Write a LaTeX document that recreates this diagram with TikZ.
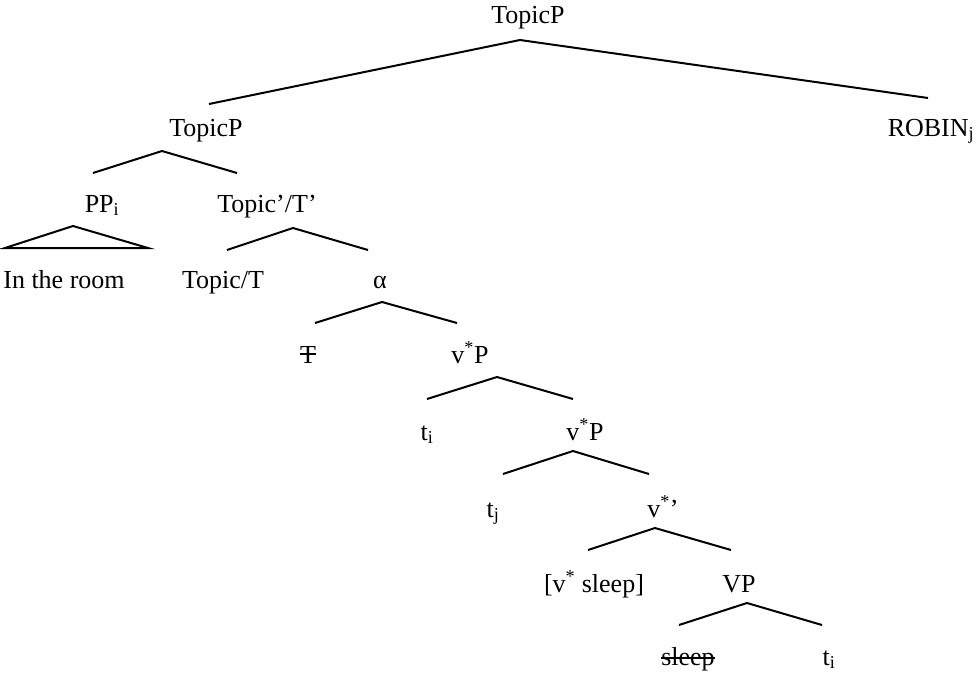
\documentclass[tikz,border=0pt]{standalone}
\usepackage{fontspec}
\setmainfont{Liberation Serif}
\newcommand\mystrike[2]{\setbox0\hbox{#2}\rlap{\rule[#1]{\wd0}{0.07em}}\box0}
\begin{document}
\begin{tikzpicture}[x=1pt,y=-1pt,
  lbl/.style={anchor=base,inner sep=0pt,font=\fontsize{26}{30}\selectfont},
  edge/.style={line width=2pt,line join=miter}]
\useasboundingbox (0,0) rectangle (978,673);
% labels
\node[lbl] (top) at (528,23) {TopicP};
\node[lbl] (tp2) at (206,136) {TopicP};
\node[lbl] (robin) at (931,136) {ROBIN\textsubscript{j}};
\node[lbl] (pp) at (102,212) {PP\textsubscript{i}};
\node[lbl] (tbar) at (267,212) {Topic’/T’};
\node[lbl] (room) at (64,288) {In the room};
\node[lbl] (topt) at (223,288) {Topic/T};
\node[lbl] (alpha) at (380,288) {α};
\node[lbl] (tstr) at (308,363) {\mystrike{0.3em}{T}};
\node[lbl] (vp1) at (470,363) {v\textsuperscript{*}P};
\node[lbl] (ti1) at (427,440) {t\textsubscript{i}};
\node[lbl] (vp2) at (585,440) {v\textsuperscript{*}P};
\node[lbl] (tj) at (493,517) {t\textsubscript{j}};
\node[lbl] (vbar) at (663,517) {v\textsuperscript{*}’};
\node[lbl] (vsleep) at (594,592) {[v\textsuperscript{*} sleep]};
\node[lbl] (vp3) at (739,592) {VP};
\node[lbl] (sleep) at (688,665) {\mystrike{0.24em}{sleep}};
\node[lbl] (ti2) at (829,665) {t\textsubscript{i}};
% branch points
\coordinate (a0) at (520,40);  \coordinate (l0) at (209,104); \coordinate (r0) at (928,98);
\coordinate (a1) at (162,151); \coordinate (l1) at (93,173);  \coordinate (r1) at (237,173);
\coordinate (a2) at (73,226);  \coordinate (l2) at (5,248);   \coordinate (r2) at (148,248);
\coordinate (a3) at (293,228); \coordinate (l3) at (227,250); \coordinate (r3) at (368,250);
\coordinate (a4) at (382,302); \coordinate (l4) at (315,323); \coordinate (r4) at (457,323);
\coordinate (a5) at (497,377); \coordinate (l5) at (427,399); \coordinate (r5) at (573,399);
\coordinate (a6) at (573,451); \coordinate (l6) at (503,474); \coordinate (r6) at (649,474);
\coordinate (a7) at (655,528); \coordinate (l7) at (588,550); \coordinate (r7) at (731,550);
\coordinate (a8) at (747,603); \coordinate (l8) at (679,625); \coordinate (r8) at (822,625);
\draw[edge] (l0) -- (a0) -- (r0);
\draw[edge] (l1) -- (a1) -- (r1);
\draw[edge] (l2) -- (a2) -- (r2) -- cycle;
\draw[edge] (l3) -- (a3) -- (r3);
\draw[edge] (l4) -- (a4) -- (r4);
\draw[edge] (l5) -- (a5) -- (r5);
\draw[edge] (l6) -- (a6) -- (r6);
\draw[edge] (l7) -- (a7) -- (r7);
\draw[edge] (l8) -- (a8) -- (r8);
\end{tikzpicture}
\end{document}
